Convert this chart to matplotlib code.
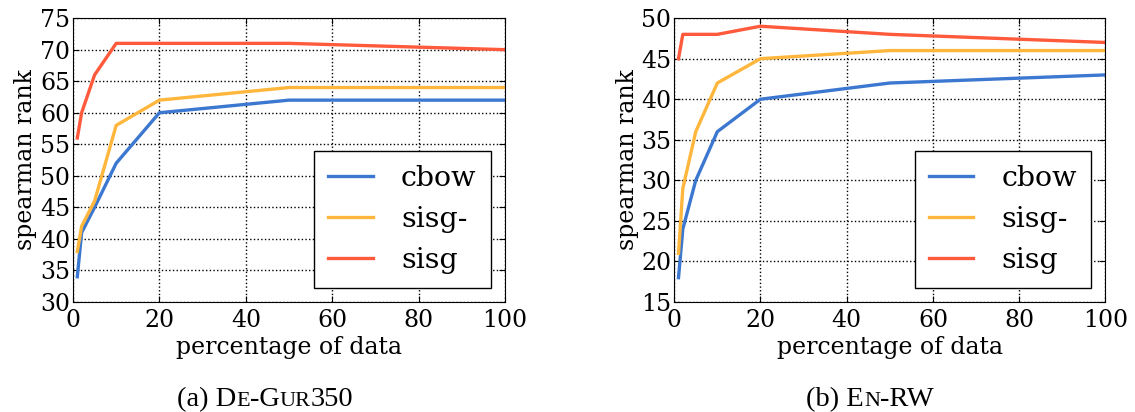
import matplotlib
matplotlib.use("Agg")
import matplotlib.pyplot as plt
from matplotlib.offsetbox import TextArea, HPacker, AnchoredOffsetbox

# percentage of training data used
pct = [1, 2, 5, 10, 20, 50, 100]

# (a) DE-GUR350
gur_cbow = [34, 41, 45, 52, 60, 62, 62]
gur_sisg_ = [38, 42, 46, 58, 62, 64, 64]
gur_sisg = [56, 60, 66, 71, 71, 71, 70]

# (b) EN-RW
rw_cbow = [18, 24, 30, 36, 40, 42, 43]
rw_sisg_ = [21, 29, 36, 42, 45, 46, 46]
rw_sisg = [45, 48, 48, 48, 49, 48, 47]

labels = ["cbow", "sisg-", "sisg"]
colors = ["#3c78d0", "#ffb63c", "#ff5a3c"]

plt.rcParams["font.family"] = "DejaVu Serif"
plt.rcParams["mathtext.fontset"] = "dejavuserif"

fig = plt.figure(figsize=(11.35, 4.12), dpi=100)
ax1 = fig.add_axes([0.0643, 0.267, 0.3807, 0.689])
ax2 = fig.add_axes([0.594, 0.267, 0.380, 0.689])


def panel(ax, series, ylim):
    for y, lab, c in zip(series, labels, colors):
        ax.plot(pct, y, color=c, lw=2.4, label=lab)
    ax.set_xlim(0, 100)
    ax.set_ylim(*ylim)
    ax.set_yticks(range(ylim[0], ylim[1] + 1, 5))
    ax.grid(True, ls=":", color="black", lw=1)
    ax.tick_params(direction="in", top=True, right=True, labelsize=17, length=4)
    ax.tick_params(axis="x", pad=5)
    ax.tick_params(axis="y", pad=2)
    ax.set_xlabel("percentage of data", fontsize=17, labelpad=3)
    ax.set_ylabel("spearman rank", fontsize=17, labelpad=2)
    leg = ax.legend(loc="lower right", fontsize=20.5, fancybox=False, handlelength=1.55,
                    handletextpad=1.0, borderpad=0.5, labelspacing=0.48,
                    borderaxespad=0.5)
    leg.get_frame().set_edgecolor("black")
    leg.get_frame().set_linewidth(1)
    leg.get_frame().set_alpha(1)


panel(ax1, [gur_cbow, gur_sisg_, gur_sisg], (30, 75))
panel(ax2, [rw_cbow, rw_sisg_, rw_sisg], (15, 50))


# captions with small caps
def caption(x, parts):
    boxes = []
    for s, big in parts:
        size = 20.5 if big else 16
        boxes.append(TextArea(s, textprops=dict(fontsize=size, family="Liberation Serif")))
    pack = HPacker(children=boxes, align="baseline", pad=0, sep=0)
    ab = AnchoredOffsetbox(loc="center", child=pack, frameon=False,
                           bbox_to_anchor=(x, 0.03), bbox_transform=fig.transFigure,
                           borderpad=0, pad=0)
    fig.add_artist(ab)


caption(0.2335, [("(a) D", True), ("E", False), ("-G", True), ("UR", False), ("350", True)])
caption(0.7665, [("(b) E", True), ("N", False), ("-RW", True)])

fig.savefig("out.png", dpi=100)
